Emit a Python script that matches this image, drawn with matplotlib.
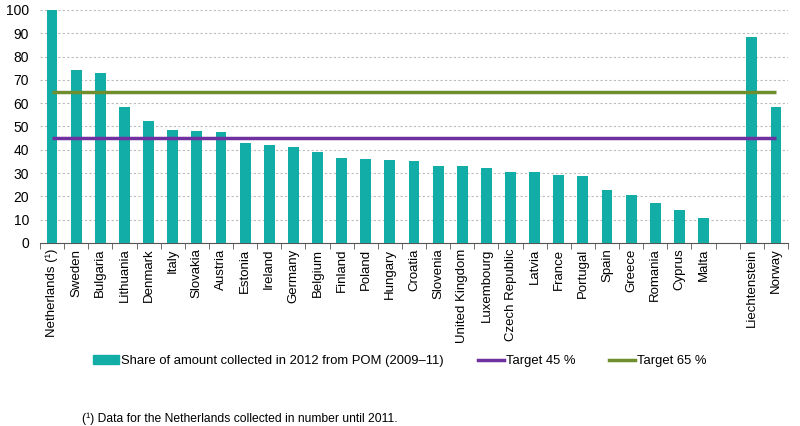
import numpy as np
import matplotlib.pyplot as plt
from matplotlib.lines import Line2D
from matplotlib.patches import Patch

countries = ["Netherlands (¹)", "Sweden", "Bulgaria", "Lithuania", "Denmark", "Italy",
             "Slovakia", "Austria", "Estonia", "Ireland", "Germany", "Belgium", "Finland",
             "Poland", "Hungary", "Croatia", "Slovenia", "United Kingdom", "Luxembourg",
             "Czech Republic", "Latvia", "France", "Portugal", "Spain", "Greece", "Romania",
             "Cyprus", "Malta", "", "Liechtenstein", "Norway"]
share = [100, 74.1, 72.9, 58.4, 52.4, 48.7, 48.2, 47.7, 42.7, 42.2, 41.0, 39.2, 36.3,
         36.2, 35.8, 35.4, 32.9, 32.9, 32.0, 30.4, 30.4, 29.1, 28.6, 22.7, 20.5, 17.0,
         14.2, 10.7, np.nan, 88.6, 58.4]
target45 = 45
target65 = 65

teal = "#13ADA8"
purple = "#7030A0"
green = "#6F8F2F"

plt.rcParams["font.family"] = ["Liberation Sans", "DejaVu Sans"]

fig = plt.figure(figsize=(8, 4.26), dpi=100)
ax = fig.add_axes([0.05, 0.4296, 0.935, 0.547])

x = np.arange(len(countries))
ax.bar(x, share, width=0.45, color=teal, zorder=3)
ax.hlines(target45, 0, len(countries) - 1, color=purple, lw=2.5, zorder=4)
ax.hlines(target65, 0, len(countries) - 1, color=green, lw=2.5, zorder=4)

ax.set_xlim(-0.5, len(countries) - 0.5)
ax.set_ylim(0, 100)
ax.set_yticks(np.arange(0, 101, 10))
ax.yaxis.grid(True, ls=(0, (2, 2)), color="#BBBBBB", lw=0.8, zorder=0)
ax.tick_params(axis="y", length=0, labelsize=10, pad=8)

ax.set_xticks(x)
ax.set_xticklabels(countries, rotation=90, fontsize=9.5)
ax.tick_params(axis="x", which="major", length=0, pad=4)
ax.set_xticks(np.arange(-0.5, len(countries)), minor=True)
ax.tick_params(axis="x", which="minor", length=4, color="#555555")

for s in ["top", "right", "left"]:
    ax.spines[s].set_visible(False)
ax.spines["bottom"].set_color("#555555")

handles = [Patch(color=teal),
           Line2D([], [], color=purple, lw=2.5),
           Line2D([], [], color=green, lw=2.5)]
labels = ["Share of amount collected in 2012 from POM (2009–11)", "Target 45 %", "Target 65 %"]
fig.legend(handles, labels, loc="center", bbox_to_anchor=(0.5, 0.152), ncol=3,
           frameon=False, fontsize=9.4, handlelength=2.0, handletextpad=0.15,
           columnspacing=2.6)

fig.text(0.102, 0.01, "(¹) Data for the Netherlands collected in number until 2011.",
         fontsize=8.7)

fig.savefig("out.png", dpi=100)
